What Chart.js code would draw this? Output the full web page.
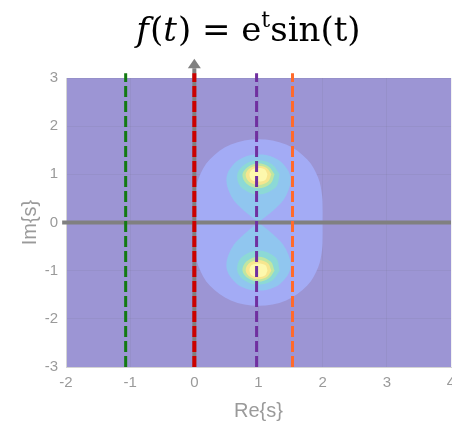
<!DOCTYPE html>
<html>
<head>
<meta charset="utf-8">
<script src="https://cdn.jsdelivr.net/npm/chart.js@4.4.1/dist/chart.umd.min.js"></script>
<style>
  body { margin: 0; background: #ffffff; }
  #wrap { width: 452px; height: 427px; }
</style>
</head>
<body>
<div id="wrap"><canvas id="plane" width="452" height="427"></canvas></div>
<script>
// Axis ticks
const reTicks = [-2, -1, 0, 1, 2, 3, 4];
const imTicks = [-3, -2, -1, 0, 1, 2, 3];

// Contour outlines, as [Re, Im] pairs
const outerLoop = [[2.00,0.00],[2.00,0.27],[1.99,0.57],[1.93,0.93],[1.76,1.31],[1.43,1.62],[1.00,1.73],[0.57,1.62],[0.24,1.31],[0.07,0.93],[0.01,0.57],[0.00,0.27],[0.00,0.00],[0.00,-0.27],[0.01,-0.57],[0.07,-0.93],[0.24,-1.31],[0.57,-1.62],[1.00,-1.73],[1.43,-1.62],[1.76,-1.31],[1.93,-0.93],[1.99,-0.57],[2.00,-0.27],[2.00,0.00]];
const dropUpper = [[1.00,0.00],[1.18,0.19],[1.28,0.31],[1.38,0.45],[1.47,0.68],[1.50,0.87],[1.48,1.03],[1.42,1.16],[1.34,1.27],[1.24,1.35],[1.12,1.40],[1.00,1.41],[0.88,1.40],[0.76,1.35],[0.66,1.27],[0.58,1.16],[0.52,1.03],[0.50,0.87],[0.53,0.68],[0.62,0.45],[0.72,0.31],[0.82,0.19],[1.00,0.00]];
const dropLower = [[1.00,0.00],[1.18,-0.19],[1.28,-0.31],[1.38,-0.45],[1.47,-0.68],[1.50,-0.87],[1.48,-1.03],[1.42,-1.16],[1.34,-1.27],[1.24,-1.35],[1.12,-1.40],[1.00,-1.41],[0.88,-1.40],[0.76,-1.35],[0.66,-1.27],[0.58,-1.16],[0.52,-1.03],[0.50,-0.87],[0.53,-0.68],[0.62,-0.45],[0.72,-0.31],[0.82,-0.19],[1.00,0.00]];
const ringAUpper = [[1.33,1.00],[1.21,1.21],[1.00,1.29],[0.79,1.21],[0.67,1.00],[0.73,0.73],[1.00,0.58],[1.27,0.73],[1.33,1.00]];
const ringALower = [[1.33,-1.00],[1.21,-1.21],[1.00,-1.29],[0.79,-1.21],[0.67,-1.00],[0.73,-0.73],[1.00,-0.58],[1.27,-0.73],[1.33,-1.00]];
const ringBUpper = [[1.25,1.00],[1.16,1.16],[1.00,1.23],[0.84,1.16],[0.75,1.00],[0.81,0.81],[1.00,0.71],[1.19,0.81],[1.25,1.00]];
const ringBLower = [[1.25,-1.00],[1.16,-1.16],[1.00,-1.23],[0.84,-1.16],[0.75,-1.00],[0.81,-0.81],[1.00,-0.71],[1.19,-0.81],[1.25,-1.00]];
const ringCUpper = [[1.20,1.00],[1.13,1.13],[1.00,1.18],[0.87,1.13],[0.80,1.00],[0.85,0.85],[1.00,0.78],[1.15,0.85],[1.20,1.00]];
const ringCLower = [[1.20,-1.00],[1.13,-1.13],[1.00,-1.18],[0.87,-1.13],[0.80,-1.00],[0.85,-0.85],[1.00,-0.78],[1.15,-0.85],[1.20,-1.00]];
const ringDUpper = [[1.14,1.00],[1.10,1.10],[1.00,1.13],[0.90,1.10],[0.86,1.00],[0.89,0.89],[1.00,0.85],[1.11,0.89],[1.14,1.00]];
const ringDLower = [[1.14,-1.00],[1.10,-1.10],[1.00,-1.13],[0.90,-1.10],[0.86,-1.00],[0.89,-0.89],[1.00,-0.85],[1.11,-0.89],[1.14,-1.00]];

// Vertical dashed lines: Re{s} positions
const lineNames = ['green', 'red', 'purple', 'orange'];
const lineRe = [-1.07, 0, 0.97, 1.53];
const lineSpan = [-3, 3.1];

// Axes through the origin
const realAxis = [[-2.06, 0], [4, 0]];
const imagAxis = [[0, -3], [0, 3.2]];
const arrowTip = [0, 3.4];

function pts(list) {
    return list.map(p => ({ x: p[0], y: p[1] }));
}

function patch(list, color) {
    return {
        data: pts(list),
        showLine: true,
        fill: 'shape',
        backgroundColor: color,
        borderWidth: 0,
        borderColor: 'rgba(0,0,0,0)',
        pointRadius: 0,
        tension: 0.35
    };
}

const lineColors = { green: '#137a13', red: '#cc0000', purple: '#7030a0', orange: '#ff6a2b' };

// bottom first
const datasets = [
    patch(outerLoop, '#a3abf5'),
    patch(dropUpper, '#90c6ef'),
    patch(dropLower, '#90c6ef'),
    patch(ringAUpper, '#8cd9d6'),
    patch(ringALower, '#8cd9d6'),
    patch(ringBUpper, '#bfe6a2'),
    patch(ringBLower, '#bfe6a2'),
    patch(ringCUpper, '#f7e68f'),
    patch(ringCLower, '#f7e68f'),
    patch(ringDUpper, '#fdf8ad'),
    patch(ringDLower, '#fdf8ad'),
    {
        data: pts(realAxis), showLine: true, borderColor: '#808080', borderWidth: 4,
        pointRadius: 0, clip: false
    },
    {
        data: pts(imagAxis), showLine: true, borderColor: '#808080', borderWidth: 4,
        pointRadius: 0, clip: false
    }
];

lineNames.forEach((name, i) => {
    datasets.push({
        data: pts([[lineRe[i], lineSpan[0]], [lineRe[i], lineSpan[1]]]),
        showLine: true,
        borderColor: lineColors[name],
        borderWidth: name === 'red' ? 4 : 3,
        borderDash: [11, 4],
        pointRadius: 0,
        clip: false
    });
});

datasets.forEach((ds, i) => { ds.order = datasets.length - i; });

// Plot background, arrow head and title text
const backdrop = {
    id: 'backdrop',
    beforeDraw(chart) {
        const a = chart.chartArea;
        const ctx = chart.ctx;
        ctx.save();
        ctx.fillStyle = '#9c95d4';
        ctx.fillRect(a.left, a.top, a.right - a.left, a.bottom - a.top);
        ctx.restore();
    },
    afterDatasetsDraw(chart) {
        // arrow head on the imaginary axis (points outside the area are skipped by Chart.js)
        const ctx = chart.ctx;
        const xs = chart.scales.x, ys = chart.scales.y;
        const tx = xs.getPixelForValue(arrowTip[0]);
        const ty = ys.getPixelForValue(arrowTip[1]);
        const by = ys.getPixelForValue(imagAxis[1][1]);
        ctx.save();
        ctx.fillStyle = '#808080';
        ctx.beginPath();
        ctx.moveTo(tx, ty);
        ctx.lineTo(tx + 6.5, by);
        ctx.lineTo(tx - 6.5, by);
        ctx.closePath();
        ctx.fill();
        ctx.restore();
    },
    afterDraw(chart) {
        const ctx = chart.ctx;
        const size = 34;
        const parts = [
            { t: 'f', it: true }, { t: '(' }, { t: 't', it: true }, { t: ')' },
            { t: ' = e' }, { t: 't', sup: true }, { t: 'sin(t)' }
        ];
        ctx.save();
        ctx.fillStyle = '#000000';
        ctx.textBaseline = 'alphabetic';
        let total = 0;
        parts.forEach(p => {
            p.font = (p.it ? 'italic ' : '') + Math.round(p.sup ? size * 0.66 : size) + 'px "DejaVu Serif"';
            ctx.font = p.font;
            p.w = ctx.measureText(p.t).width + (p.it ? 1 : 0);
            total += p.w;
        });
        let x = 248.5 - total / 2;
        parts.forEach(p => {
            ctx.font = p.font;
            ctx.fillText(p.t, x, p.sup ? 27 : 41);
            x += p.w;
        });
        ctx.restore();
    }
};

const tickFont = { family: '"Liberation Sans", Arial, sans-serif', size: 15 };
const titleFont = { family: '"Liberation Sans", Arial, sans-serif', size: 20 };

new Chart(document.getElementById('plane'), {
    type: 'scatter',
    data: { datasets: datasets },
    options: {
        responsive: false,
        devicePixelRatio: 1,
        animation: false,
        layout: { padding: { top: 78, left: 0, right: 1, bottom: 0 } },
        plugins: { legend: { display: false }, tooltip: { enabled: false } },
        scales: {
            x: {
                type: 'linear', min: reTicks[0], max: reTicks[reTicks.length - 1], z: 1,
                afterBuildTicks: s => { s.ticks = reTicks.map(v => ({ value: v })); },
                afterFit: s => { s.height = 60; s.paddingRight = 0; s.paddingLeft = 0; },
                ticks: { color: '#9a9a9a', font: tickFont, padding: 7, maxRotation: 0 },
                grid: { color: 'rgba(90,90,90,0.08)', drawTicks: false },
                border: { color: '#d4d4d4', width: 1 },
                title: { display: true, text: 'Re{s}', color: '#9a9a9a', font: titleFont, padding: { top: 4, bottom: 4 } }
            },
            y: {
                type: 'linear', min: imTicks[0], max: imTicks[imTicks.length - 1], z: 1,
                afterBuildTicks: s => { s.ticks = imTicks.map(v => ({ value: v })); },
                afterFit: s => { s.width = 66; s.paddingTop = 0; s.paddingBottom = 0; },
                ticks: { color: '#9a9a9a', font: tickFont, padding: 8 },
                grid: { color: 'rgba(90,90,90,0.08)', drawTicks: false },
                border: { color: '#d4d4d4', width: 1 },
                title: { display: true, text: 'Im{s}', color: '#9a9a9a', font: titleFont, padding: { top: 18, bottom: 0 } }
            }
        }
    },
    plugins: [backdrop]
});
</script>
</body>
</html>
